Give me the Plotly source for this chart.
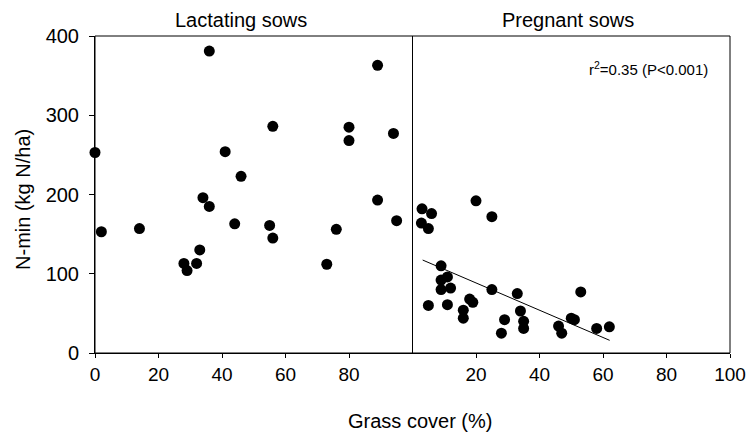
import plotly.graph_objects as go

# Lactating sows panel
lact_x = [0, 2, 14, 28, 29, 32, 33, 34, 36, 36, 41, 44, 46, 55, 56, 56, 73, 76, 80, 80, 89, 89, 94, 95]
lact_y = [253, 153, 157, 113, 104, 113, 130, 196, 185, 381, 254, 163, 223, 161, 145, 286, 112, 156, 285, 268, 363, 193, 277, 167]

# Pregnant sows panel
preg_x = [3, 6, 2.8, 5, 20, 25, 9, 9, 11, 9, 12, 5, 11, 18, 19, 16, 16, 25, 29, 28, 33, 34, 35, 35, 46, 47, 50, 51, 53, 58, 62]
preg_y = [182, 176, 164, 157, 192, 172, 110, 92, 96, 80, 82, 60, 61, 68, 64, 54, 44, 80, 42, 25, 75, 53, 40, 31, 34, 25, 44, 42, 77, 31, 33]

# Regression line (pregnant sows)
fit_intercept = 122.8
fit_slope = -1.72
fit_x = [3.2, 62.1]
fit_y = [fit_intercept + fit_slope * v for v in fit_x]

left_ticks = [0, 20, 40, 60, 80]
right_ticks = [20, 40, 60, 80, 100]
y_ticks = [0, 100, 200, 300, 400]

FONT = "Liberation Sans, Arial, sans-serif"

fig = go.Figure()
fig.add_trace(go.Scatter(x=lact_x, y=lact_y, mode="markers", xaxis="x", yaxis="y",
                         marker=dict(size=11, color="black"), cliponaxis=False, showlegend=False))
fig.add_trace(go.Scatter(x=preg_x, y=preg_y, mode="markers", xaxis="x2", yaxis="y",
                         marker=dict(size=11, color="black"), cliponaxis=False, showlegend=False))
fig.add_trace(go.Scatter(x=fit_x, y=fit_y, mode="lines", xaxis="x2", yaxis="y",
                         line=dict(color="black", width=1), showlegend=False))

axis_common = dict(showgrid=False, zeroline=False, showline=True, linecolor="black", linewidth=1,
                   ticks="outside", ticklen=4, tickcolor="black", range=[0, 100], automargin=False,
                   tickfont=dict(family=FONT, size=19, color="black"))

fig.update_layout(
    width=746, height=435,
    margin=dict(l=95, r=16, t=36, b=82),
    paper_bgcolor="white", plot_bgcolor="white",
    font=dict(family=FONT, color="black"),
    xaxis=dict(domain=[0, 0.5], anchor="y", tickvals=left_ticks, **axis_common),
    xaxis2=dict(domain=[0.5, 1], anchor="y", tickvals=right_ticks, **axis_common),
    yaxis=dict(range=[0, 400], tickvals=y_ticks, showgrid=False, zeroline=False, showline=True,
               linecolor="black", linewidth=1, ticks="outside", ticklen=5, tickcolor="black",
               ticklabelstandoff=6, automargin=False,
               tickfont=dict(family=FONT, size=20, color="black")),
    shapes=[
        dict(type="rect", xref="paper", yref="paper", x0=0, x1=1, y0=0, y1=1,
             line=dict(color="black", width=1)),
        dict(type="line", xref="paper", yref="paper", x0=0.5, x1=0.5, y0=0, y1=1,
             line=dict(color="black", width=1)),
    ],
    annotations=[
        dict(text="Lactating sows", xref="paper", yref="paper", x=0.23, y=1.0505,
             xanchor="center", yanchor="middle", showarrow=False, font=dict(size=20, family=FONT)),
        dict(text="Pregnant sows", xref="paper", yref="paper", x=0.745, y=1.0505,
             xanchor="center", yanchor="middle", showarrow=False, font=dict(size=20, family=FONT)),
        dict(text="r<sup>2</sup>=0.35 (P&lt;0.001)", xref="paper", yref="paper", x=0.8724, y=0.899,
             xanchor="center", yanchor="middle", showarrow=False, font=dict(size=15, family=FONT)),
        dict(text="Grass cover (%)", xref="paper", yref="paper", x=0.512, y=-0.2145,
             xanchor="center", yanchor="middle", showarrow=False, font=dict(size=20, family=FONT)),
        dict(text="N-min (kg N/ha)", xref="paper", yref="paper", x=-0.1134, y=0.486,
             xanchor="center", yanchor="middle", textangle=-90, showarrow=False,
             font=dict(size=20, family=FONT)),
    ],
)

fig.write_html("out.html", config={"displayModeBar": False},
               post_script="document.body.style.margin='0';document.body.style.overflow='hidden';")
